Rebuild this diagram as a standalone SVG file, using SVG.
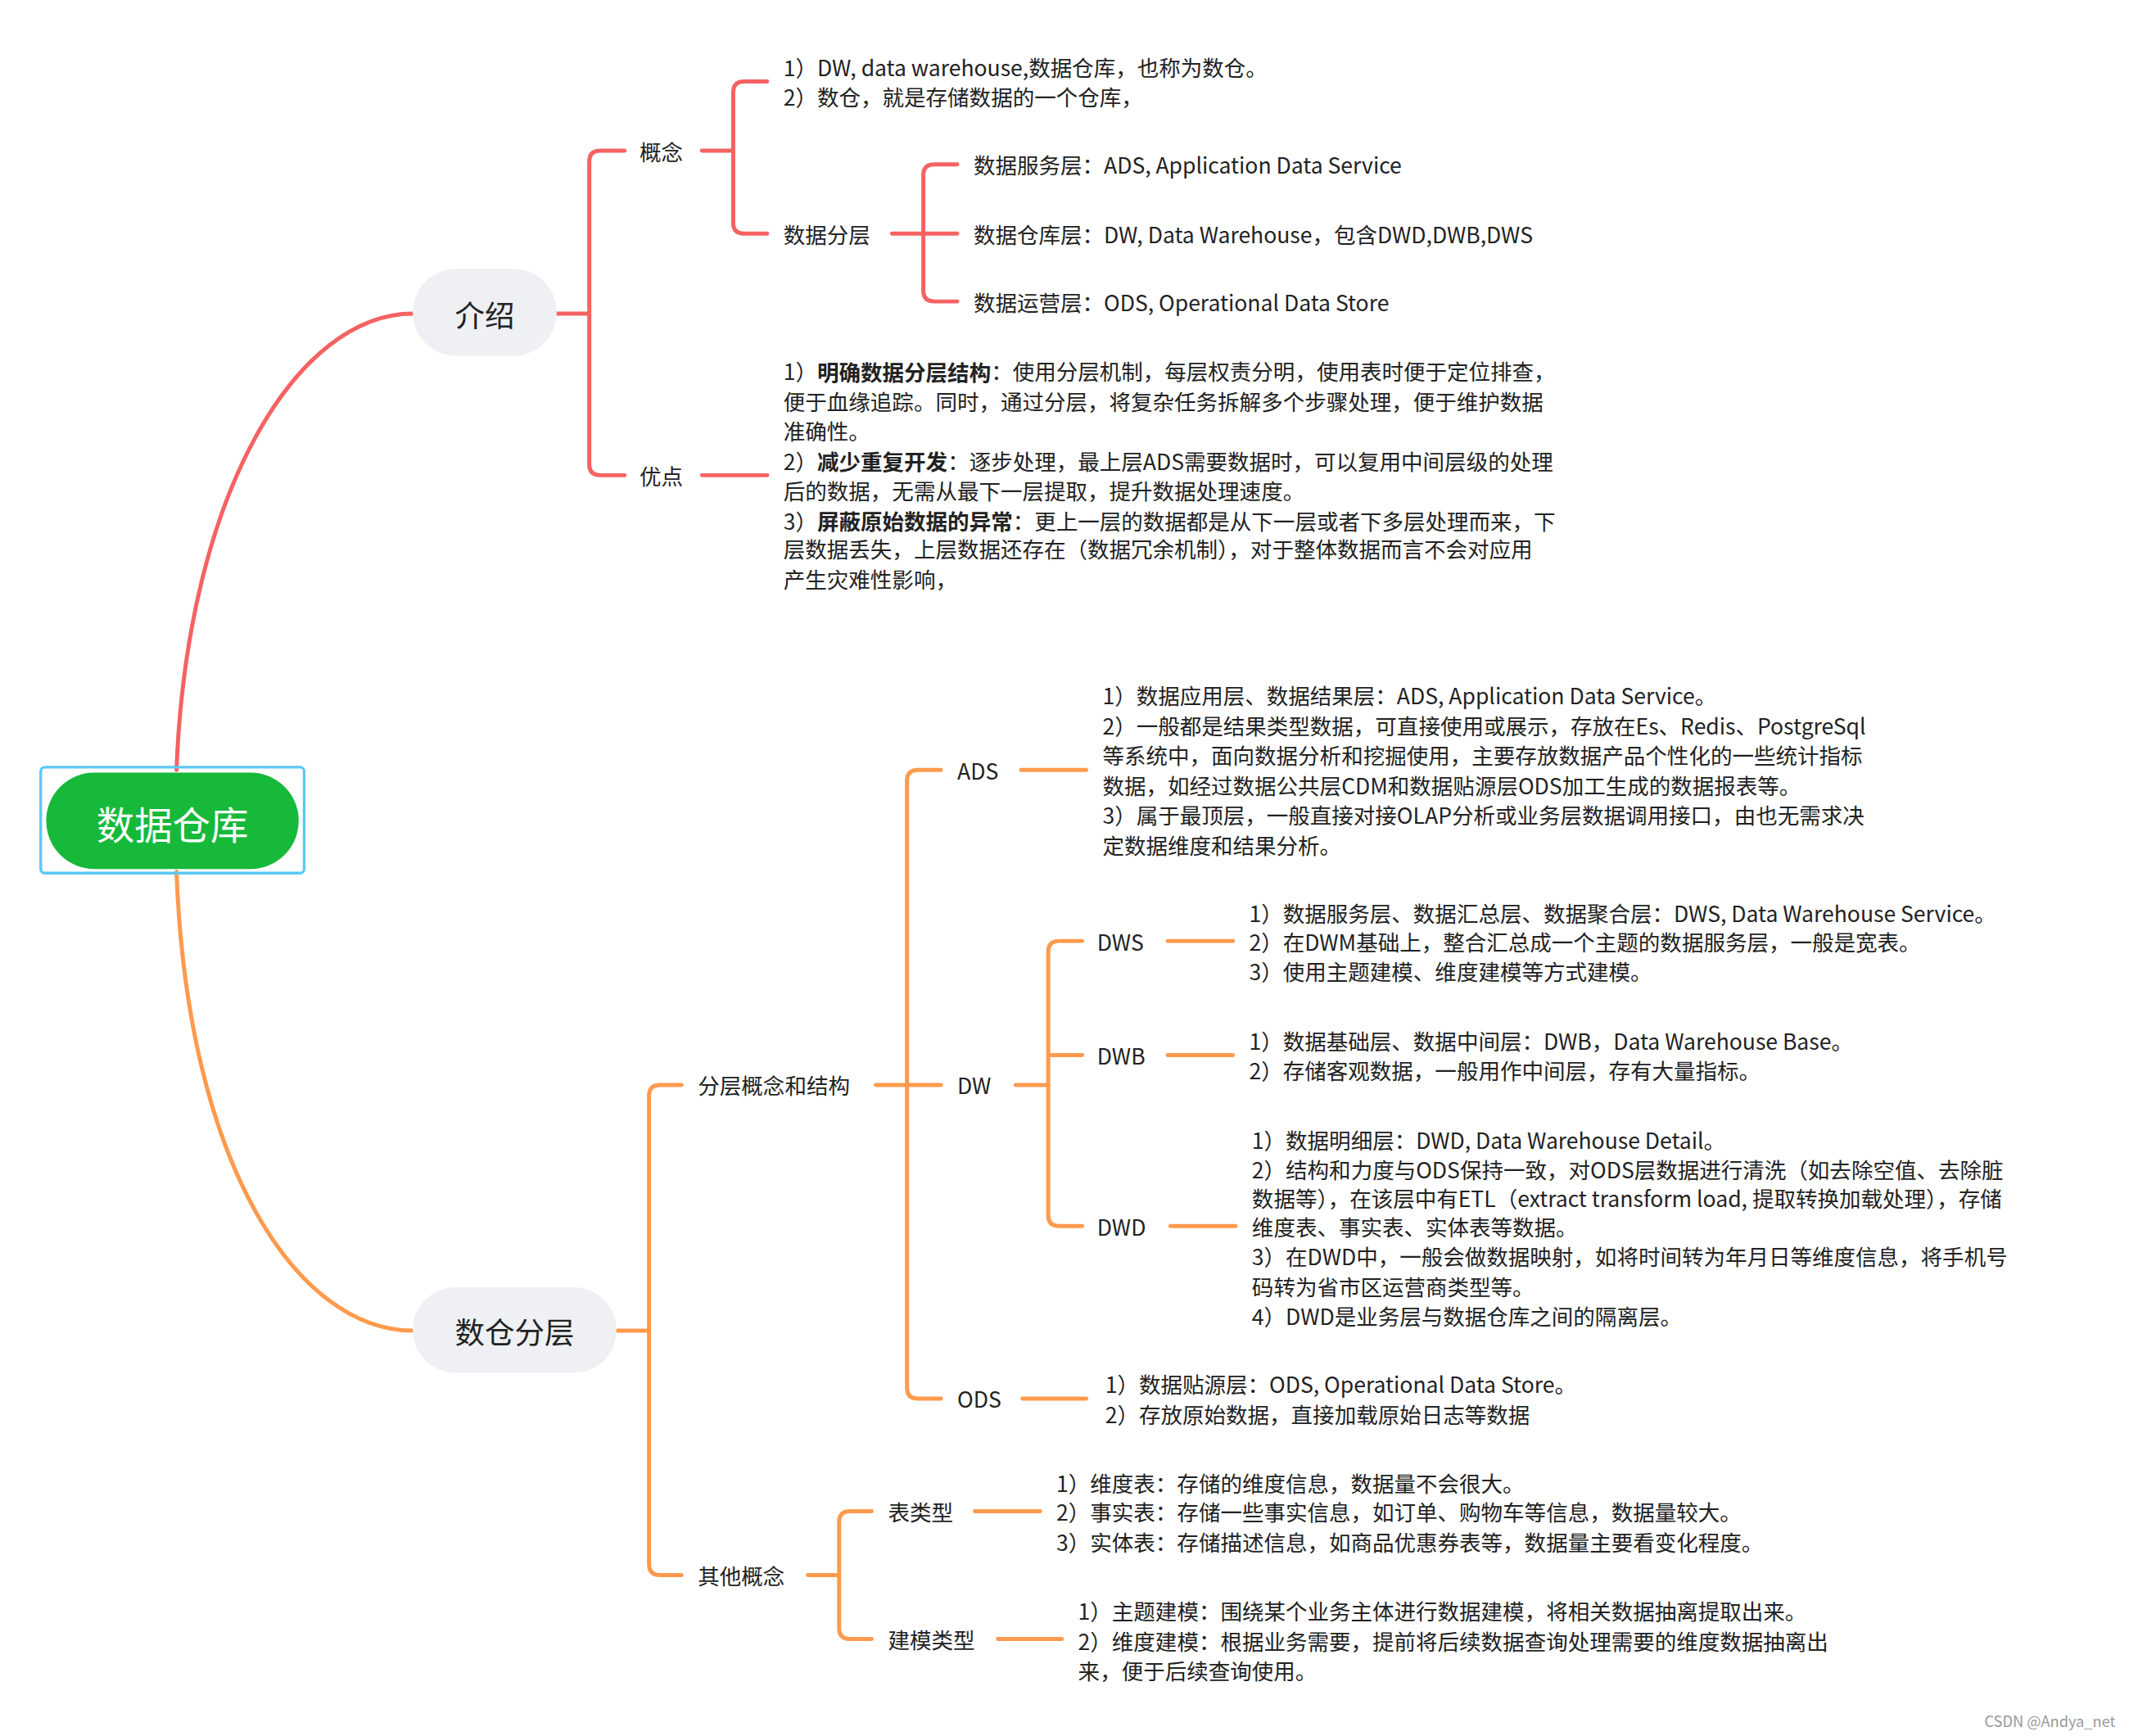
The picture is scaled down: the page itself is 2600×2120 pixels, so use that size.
<svg xmlns="http://www.w3.org/2000/svg" width="2600" height="2120" viewBox="0 0 2600 2120">
<style>
text{font-family:"Noto Sans CJK SC","Microsoft YaHei",sans-serif;fill:#222;dominant-baseline:central}
.t{font-size:16px}
.b{font-weight:bold}
.r{fill:none;stroke:#f56262;stroke-width:3;stroke-linecap:round;stroke-linejoin:round}
.o{fill:none;stroke:#ff9a4d;stroke-width:3;stroke-linecap:round;stroke-linejoin:round}
.pill{fill:#eef0f3}
</style>
<rect width="2600" height="2120" fill="#fff"/>
<g transform="scale(1.6582)">
<g id="connectors">
<path class="r" d="M130,567 C138,360 220,231 304,231"/>
<path class="o" d="M130,642 C138,860 220,980 304,980"/>
<path class="r" d="M410,231 H434 M460,111 H442 Q434,111 434,119 V342 Q434,350 442,350 H460"/>
<path class="r" d="M517,111 H540 M565,60 H548 Q540,60 540,68 V164 Q540,172 548,172 H565"/>
<path class="r" d="M657,172 H705 M705,121 H688 Q680,121 680,129 V214 Q680,222 688,222 H705"/>
<path class="r" d="M517,350 H565"/>
<path class="o" d="M454,980 H478 M502,799 H486 Q478,799 478,807 V1152 Q478,1160 486,1160 H502"/>
<path class="o" d="M645,799 H693 M693,567 H676 Q668,567 668,575 V1022 Q668,1030 676,1030 H693"/>
<path class="o" d="M752,567 H800 M753,1030 H800"/>
<path class="o" d="M748,799 H772 M797,693 H780 Q772,693 772,701 V895 Q772,903 780,903 H797 M772,777 H797"/>
<path class="o" d="M860,693 H908 M860,777 H908 M862,903 H910"/>
<path class="o" d="M595,1160 H618 M642,1113 H626 Q618,1113 618,1121 V1199 Q618,1207 626,1207 H642"/>
<path class="o" d="M718,1113 H766 M735,1207 H782"/>
</g>
<g id="root">
<rect x="30" y="565" width="194" height="78" rx="3" fill="none" stroke="#5bc8f5" stroke-width="2"/>
<rect x="34" y="569" width="186" height="71" rx="35.5" fill="#16b93a"/>
<text x="127" y="606" text-anchor="middle" style="font-size:28px;fill:#fff">数据仓库</text>
</g>
<g id="intro">
<rect class="pill" x="304" y="198" width="106" height="64" rx="32"/>
<text x="357" y="231" text-anchor="middle" style="font-size:22px">介绍</text>
</g>
<g id="layers">
<rect class="pill" x="304" y="948" width="150" height="63" rx="31.5"/>
<text x="379" y="980" text-anchor="middle" style="font-size:22px">数仓分层</text>
</g>
<g id="concept"><text class="t" x="471" y="111">概念</text></g>
<g id="concept-text">
<text class="t" x="577" y="49">1）DW, data warehouse,数据仓库，也称为数仓。</text>
<text class="t" x="577" y="71">2）数仓，就是存储数据的一个仓库，</text>
</g>
<g id="layering"><text class="t" x="577" y="172">数据分层</text></g>
<g id="l1"><text class="t" x="717" y="121">数据服务层：ADS, Application Data Service</text></g>
<g id="l2"><text class="t" x="717" y="172">数据仓库层：DW, Data Warehouse，包含DWD,DWB,DWS</text></g>
<g id="l3"><text class="t" x="717" y="222">数据运营层：ODS, Operational Data Store</text></g>
<g id="advantage"><text class="t" x="471" y="350">优点</text></g>
<g id="advantage-text">
<text class="t" x="577" y="273">1）<tspan class="b">明确数据分层结构</tspan>：使用分层机制，每层权责分明，使用表时便于定位排查，</text>
<text class="t" x="577" y="295">便于血缘追踪。同时，通过分层，将复杂任务拆解多个步骤处理，便于维护数据</text>
<text class="t" x="577" y="317">准确性。</text>
<text class="t" x="577" y="339">2）<tspan class="b">减少重复开发</tspan>：逐步处理，最上层ADS需要数据时，可以复用中间层级的处理</text>
<text class="t" x="577" y="361">后的数据，无需从最下一层提取，提升数据处理速度。</text>
<text class="t" x="577" y="383">3）<tspan class="b">屏蔽原始数据的异常</tspan>：更上一层的数据都是从下一层或者下多层处理而来，下</text>
<text class="t" x="577" y="404">层数据丢失，上层数据还存在（数据冗余机制），对于整体数据而言不会对应用</text>
<text class="t" x="577" y="426">产生灾难性影响，</text>
</g>
<g id="struct"><text class="t" x="514" y="799">分层概念和结构</text></g>
<g id="ads"><text class="t" x="705" y="567">ADS</text></g>
<g id="ads-text">
<text class="t" x="812" y="512">1）数据应用层、数据结果层：ADS, Application Data Service。</text>
<text class="t" x="812" y="534">2）一般都是结果类型数据，可直接使用或展示，存放在Es、Redis、PostgreSql</text>
<text class="t" x="812" y="556">等系统中，面向数据分析和挖掘使用，主要存放数据产品个性化的一些统计指标</text>
<text class="t" x="812" y="578">数据，如经过数据公共层CDM和数据贴源层ODS加工生成的数据报表等。</text>
<text class="t" x="812" y="600">3）属于最顶层，一般直接对接OLAP分析或业务层数据调用接口，由也无需求决</text>
<text class="t" x="812" y="622">定数据维度和结果分析。</text>
</g>
<g id="dw"><text class="t" x="705" y="799">DW</text></g>
<g id="dws"><text class="t" x="808" y="693">DWS</text></g>
<g id="dws-text">
<text class="t" x="920" y="672">1）数据服务层、数据汇总层、数据聚合层：DWS, Data Warehouse Service。</text>
<text class="t" x="920" y="693">2）在DWM基础上，整合汇总成一个主题的数据服务层，一般是宽表。</text>
<text class="t" x="920" y="715">3）使用主题建模、维度建模等方式建模。</text>
</g>
<g id="dwb"><text class="t" x="808" y="777">DWB</text></g>
<g id="dwb-text">
<text class="t" x="920" y="766">1）数据基础层、数据中间层：DWB，Data Warehouse Base。</text>
<text class="t" x="920" y="788">2）存储客观数据，一般用作中间层，存有大量指标。</text>
</g>
<g id="dwd"><text class="t" x="808" y="903">DWD</text></g>
<g id="dwd-text">
<text class="t" x="922" y="839">1）数据明细层：DWD, Data Warehouse Detail。</text>
<text class="t" x="922" y="861">2）结构和力度与ODS保持一致，对ODS层数据进行清洗（如去除空值、去除脏</text>
<text class="t" x="922" y="882">数据等），在该层中有ETL（extract transform load, 提取转换加载处理），存储</text>
<text class="t" x="922" y="903">维度表、事实表、实体表等数据。</text>
<text class="t" x="922" y="925">3）在DWD中，一般会做数据映射，如将时间转为年月日等维度信息，将手机号</text>
<text class="t" x="922" y="947">码转为省市区运营商类型等。</text>
<text class="t" x="922" y="969">4）DWD是业务层与数据仓库之间的隔离层。</text>
</g>
<g id="ods"><text class="t" x="705" y="1030">ODS</text></g>
<g id="ods-text">
<text class="t" x="814" y="1019">1）数据贴源层：ODS, Operational Data Store。</text>
<text class="t" x="814" y="1041">2）存放原始数据，直接加载原始日志等数据</text>
</g>
<g id="other"><text class="t" x="514" y="1160">其他概念</text></g>
<g id="tabletype"><text class="t" x="654" y="1113">表类型</text></g>
<g id="tabletype-text">
<text class="t" x="778" y="1092">1）维度表：存储的维度信息，数据量不会很大。</text>
<text class="t" x="778" y="1113">2）事实表：存储一些事实信息，如订单、购物车等信息，数据量较大。</text>
<text class="t" x="778" y="1135">3）实体表：存储描述信息，如商品优惠券表等，数据量主要看变化程度。</text>
</g>
<g id="modeltype"><text class="t" x="654" y="1207">建模类型</text></g>
<g id="modeltype-text">
<text class="t" x="794" y="1186">1）主题建模：围绕某个业务主体进行数据建模，将相关数据抽离提取出来。</text>
<text class="t" x="794" y="1208">2）维度建模：根据业务需要，提前将后续数据查询处理需要的维度数据抽离出</text>
<text class="t" x="794" y="1230">来，便于后续查询使用。</text>
</g>
<text x="1558" y="1267" text-anchor="end" style="font-size:11px;fill:#999">CSDN @Andya_net</text>
</g>
</svg>
